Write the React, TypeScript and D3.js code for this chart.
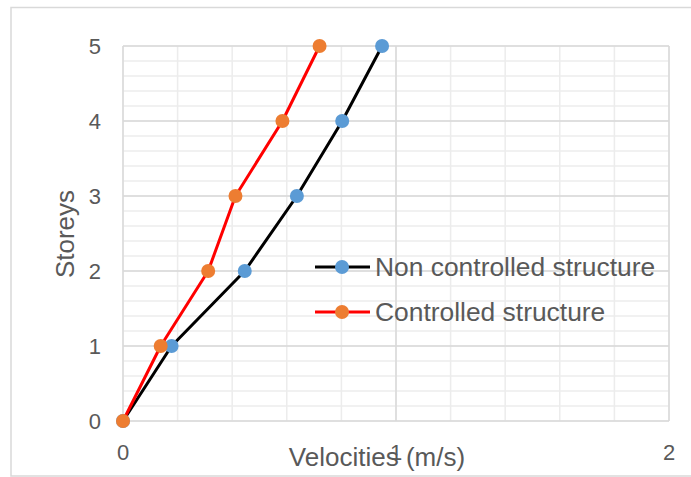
import React from "react";
import * as d3 from "d3";

const storeys = [0, 1, 2, 3, 4, 5];
const nonControlled = [0, 0.178, 0.446, 0.637, 0.803, 0.949];
const controlled = [0, 0.138, 0.312, 0.412, 0.584, 0.72];
const xTicks = [0, 1, 2];
const yTicks = [0, 1, 2, 3, 4, 5];
const seriesNames = ["Non controlled structure", "Controlled structure"];

const W = 691;
const H = 477;
const FONT = "'Liberation Sans', Arial, sans-serif";

export default function App() {
  const x = d3.scaleLinear().domain([0, 2]).range([123, 669]);
  const y = d3.scaleLinear().domain([0, 5]).range([421, 46]);
  const minorX = d3.range(0, 2.0001, 0.2);
  const minorY = d3.range(0, 5.0001, 0.2);

  const series = [
    { name: seriesNames[0], vals: nonControlled, line: "#000000", marker: "#5B9BD5" },
    { name: seriesNames[1], vals: controlled, line: "#FF0000", marker: "#ED7D31" },
  ];
  const lineGen = d3
    .line<[number, number]>()
    .x((d) => x(d[0]))
    .y((d) => y(d[1]));

  const legendY = [267, 312];

  return (
    <div style={{ position: "absolute", left: 0, top: 0, width: W, height: H }}>
      <svg width={W} height={H} style={{ display: "block" }}>
        <rect x={0} y={0} width={W} height={H} fill="#fff" />
        <rect x={11} y={7.5} width={W + 5} height={H - 8.5} fill="#fff" stroke="#d9d9d9" strokeWidth={1.5} />
        {minorX.map((v, i) => (
          <line key={"mx" + i} x1={x(v)} x2={x(v)} y1={y(0)} y2={y(5)} stroke="#ececec" strokeWidth={1.5} />
        ))}
        {minorY.map((v, i) => (
          <line key={"my" + i} x1={x(0)} x2={x(2)} y1={y(v)} y2={y(v)} stroke="#ececec" strokeWidth={1.5} />
        ))}
        {xTicks.map((v) => (
          <line key={"Mx" + v} x1={x(v)} x2={x(v)} y1={y(0)} y2={y(5)} stroke="#d9d9d9" strokeWidth={1.5} />
        ))}
        {yTicks.map((v) => (
          <line key={"My" + v} x1={x(0)} x2={x(2)} y1={y(v)} y2={y(v)} stroke="#d9d9d9" strokeWidth={1.5} />
        ))}
        {yTicks.map((v) => (
          <text key={"yt" + v} x={101} y={y(v) + 8} textAnchor="end" fontFamily={FONT} fontSize={22} fill="#595959">
            {v}
          </text>
        ))}
        {xTicks.map((v) => (
          <text key={"xt" + v} x={x(v)} y={460} textAnchor="middle" fontFamily={FONT} fontSize={22} fill="#595959">
            {v}
          </text>
        ))}
        {series.map((s, si) => (
          <g key={"s" + si}>
            <path
              d={lineGen(s.vals.map((v, i) => [v, storeys[i]] as [number, number])) || ""}
              fill="none"
              stroke={s.line}
              strokeWidth={3}
              strokeLinejoin="round"
            />
            {s.vals.map((v, i) => (
              <circle key={i} cx={x(v)} cy={y(storeys[i])} r={7} fill={s.marker} />
            ))}
          </g>
        ))}
        {series.map((s, si) => (
          <g key={"lg" + si}>
            <line x1={315} x2={370} y1={legendY[si]} y2={legendY[si]} stroke={s.line} strokeWidth={3} />
            <circle cx={342} cy={legendY[si]} r={7} fill={s.marker} />
            <text x={375} y={legendY[si] + 9} fontFamily={FONT} fontSize={26.4} fill="#595959">
              {s.name}
            </text>
          </g>
        ))}
        <text x={377} y={466} textAnchor="middle" fontFamily={FONT} fontSize={26} fill="#595959">
          Velocities (m/s)
        </text>
        <text
          transform={`translate(74,234) rotate(-90)`}
          textAnchor="middle"
          fontFamily={FONT}
          fontSize={26}
          fill="#595959"
        >
          Storeys
        </text>
      </svg>
    </div>
  );
}
